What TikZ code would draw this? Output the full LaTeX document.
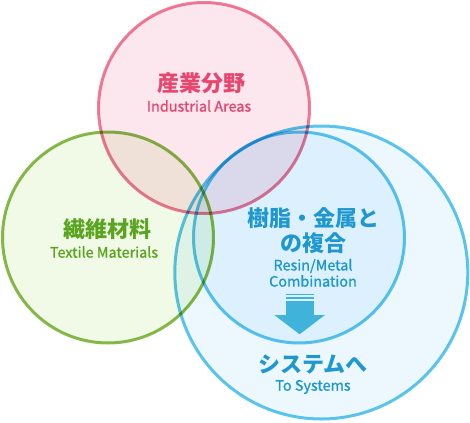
\documentclass[tikz,border=0pt]{standalone}
\usepackage{fontspec}
\setmainfont{Noto Sans CJK JP}
\newfontfamily\enmed{Noto Sans CJK JP}[FakeBold=1.2]
\definecolor{pinkfill}{HTML}{FDE7EE}
\definecolor{pinkline}{HTML}{EF7E9A}
\definecolor{pinktext}{HTML}{E8466F}
\definecolor{greenfill}{HTML}{F1F9E7}
\definecolor{greenline}{HTML}{88BA4C}
\definecolor{greentext}{HTML}{5AA51F}
\definecolor{bluefill}{HTML}{EDF8FE}
\definecolor{blueline}{HTML}{5DC7ED}
\definecolor{bluetext}{HTML}{1E98CF}
\definecolor{arrowblue}{HTML}{40B3DA}
\begin{document}
\begin{tikzpicture}[x=1pt,y=-1pt,
  circ/.style={line width=3pt},
  jp/.style={inner sep=0pt,font=\fontsize{22}{25}\selectfont\bfseries},
  en/.style={inner sep=0pt,font=\fontsize{14.4}{15}\selectfont\enmed}]
\useasboundingbox (0,0) rectangle (470,422);
\begin{scope}[blend mode=multiply]
\draw[circ,fill=pinkfill,draw=pinkline] (204,108) circle[radius=105.5];
\draw[circ,fill=greenfill,draw=greenline] (108,237.5) circle[radius=105.5];
\draw[circ,fill=bluefill,draw=blueline] (321.3,272.5) circle[radius=146.5];
\draw[circ,fill=bluefill,draw=blueline] (299,237.5) circle[radius=105.5];
\end{scope}
% arrow
\fill[arrowblue] (285.7,294) rectangle (313.7,295.3);
\fill[arrowblue] (285.7,297.3) rectangle (313.7,298.7);
\fill[arrowblue] (285.7,300.7) rectangle (313.7,315.2);
\fill[arrowblue] (274.3,315) -- (324.9,315) -- (299.6,334.3) -- cycle;
% texts
\node[jp,text=pinktext] (ind) at (201,83) {産業分野};
\node[en,text=pinktext] (inden) at (199,106) {Industrial Areas};
\node[jp,text=greentext] (tex) at (107,229) {繊維材料};
\node[en,text=greentext] (texen) at (104,252) {Textile Materials};
\node[jp,text=bluetext] (res1) at (313,218) {樹脂・金属と};
\node[jp,text=bluetext] (res2) at (313,243) {の複合};
\node[en,text=bluetext] (resen1) at (313,266) {Resin/Metal};
\node[en,text=bluetext] (resen2) at (313,281) {Combination};
\node[jp,text=bluetext] (sys) at (313,364) {システムへ};
\node[en,text=bluetext] (sysen) at (313,387) {To Systems};
\end{tikzpicture}
\end{document}
